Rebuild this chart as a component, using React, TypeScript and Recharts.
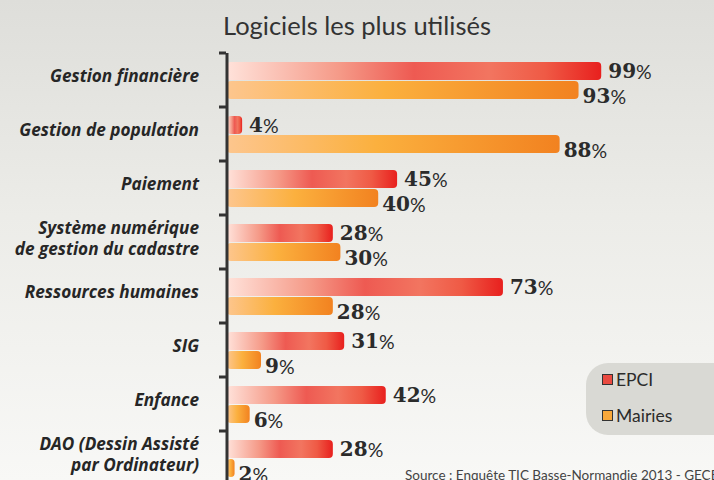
import React from "react";
import { BarChart, Bar, XAxis, YAxis, LabelList } from "recharts";

const categories = [
  "Gestion financière",
  "Gestion de population",
  "Paiement",
  "Système numérique\nde gestion du cadastre",
  "Ressources humaines",
  "SIG",
  "Enfance",
  "DAO (Dessin Assisté\npar Ordinateur)",
];
const epci = [99, 4, 45, 28, 73, 31, 42, 28];
const mairies = [93, 88, 40, 30, 28, 9, 6, 2];
const seriesNames = ["EPCI", "Mairies"];
const title = "Logiciels les plus utilisés";
const source = "Source : Enquête TIC Basse-Normandie 2013 - GECE";

const data = categories.map((c, i) => ({ name: c, epci: epci[i], mairies: mairies[i] }));

const W = 714;
const H = 500;
const margin = { top: 53, right: 109, bottom: 15, left: 0 };
const band = (H - margin.top - margin.bottom) / categories.length;

function CategoryTick(props: any) {
  const { x, y, payload } = props;
  const lines = String(payload.value).split("\n");
  const lh = 21;
  const y0 = y - ((lines.length - 1) * lh) / 2 + 2;
  const tx = x - 20;
  return (
    <g>
      <line x1={x} x2={x + 7} y1={y - band / 2} y2={y - band / 2} stroke="#333" strokeWidth={3} />
      <text
        x={tx}
        y={y0}
        textAnchor="end"
        fontFamily="'Open Sans', sans-serif"
        fontStyle="italic"
        fontWeight={700}
        fontSize={17.2}
        fill="#262626"
      >
        {lines.map((l, i) => (
          <tspan key={i} x={tx} y={y0 + i * lh}>
            {l}
          </tspan>
        ))}
      </text>
    </g>
  );
}

function valueLabel(dx: number, dy: number) {
  return (props: any) => {
    const { x, y, width, height, value } = props;
    return (
      <text x={x + width + dx} y={y + height / 2 + dy} dominantBaseline="central" fill="#2b2b2b">
        <tspan fontFamily="'DejaVu Serif', serif" fontWeight={700} fontSize={20}>
          {value}
        </tspan>
        <tspan fontFamily="Lato, sans-serif" fontSize={19.5} fontWeight={400}>
          %
        </tspan>
      </text>
    );
  };
}

function LegendBox() {
  const item = (label: string, fill: string, top: number) => (
    <div style={{ position: "absolute", left: 16, top, display: "flex", alignItems: "center" }}>
      <div style={{ width: 9, height: 9, border: "1.5px solid #333", background: fill, marginRight: 3 }} />
      <span style={{ fontFamily: "Lato, sans-serif", fontSize: 17.5, color: "#2b2b2b" }}>{label}</span>
    </div>
  );
  return (
    <div
      style={{
        position: "absolute",
        left: 586,
        top: 363,
        width: 150,
        height: 72,
        background: "#d9d9d4",
        borderRadius: 22,
      }}
    >
      {item(seriesNames[0], "#ea4a40", 6)}
      {item(seriesNames[1], "#f9a83a", 42)}
    </div>
  );
}

export default function App() {
  return (
    <div
      style={{
        position: "absolute",
        left: 0,
        top: 0,
        width: W,
        height: 480,
        overflow: "hidden",
        background: "linear-gradient(#dededa 0%, #ecece8 45%, #f8f8f6 100%)",
      }}
    >
      <div
        style={{
          position: "absolute",
          top: 10,
          width: W,
          textAlign: "center",
          fontFamily: "Lato, sans-serif",
          fontSize: 25.5,
          color: "#333",
        }}
      >
        {title}
      </div>
      <div style={{ position: "absolute", left: 0, top: 0 }}>
        <BarChart
          width={W}
          height={H}
          data={data}
          layout="vertical"
          margin={margin}
          barCategoryGap={9}
          barGap={1}
        >
          <defs>
            <linearGradient id="gEpci" x1="0" y1="0" x2="1" y2="0">
              <stop offset="0" stopColor="#ffe2da" />
              <stop offset="0.3" stopColor="#f59a88" />
              <stop offset="0.5" stopColor="#ee5a52" />
              <stop offset="0.7" stopColor="#f27560" />
              <stop offset="0.85" stopColor="#ef5a45" />
              <stop offset="1" stopColor="#e8201e" />
            </linearGradient>
            <linearGradient id="gMairies" x1="0" y1="0" x2="1" y2="0">
              <stop offset="0" stopColor="#fdc68e" />
              <stop offset="0.45" stopColor="#fbb03e" />
              <stop offset="1" stopColor="#f28220" />
            </linearGradient>
          </defs>
          <XAxis type="number" domain={[0, 100]} hide />
          <YAxis
            type="category"
            dataKey="name"
            width={227}
            axisLine={{ stroke: "#333", strokeWidth: 3 }}
            tickLine={false}
            tick={<CategoryTick />}
            interval={0}
          />
          <Bar dataKey="epci" name={seriesNames[0]} fill="url(#gEpci)" radius={4} isAnimationActive={false}>
            <LabelList dataKey="epci" content={valueLabel(7, 0)} />
          </Bar>
          <Bar dataKey="mairies" name={seriesNames[1]} fill="url(#gMairies)" radius={4} isAnimationActive={false}>
            <LabelList dataKey="mairies" content={valueLabel(4, 6)} />
          </Bar>
        </BarChart>
      </div>
      <LegendBox />
      <div
        style={{
          position: "absolute",
          left: 405,
          top: 467,
          fontFamily: "Lato, sans-serif",
          fontSize: 13.5,
          color: "#444",
          whiteSpace: "nowrap",
        }}
      >
        {source}
      </div>
    </div>
  );
}
